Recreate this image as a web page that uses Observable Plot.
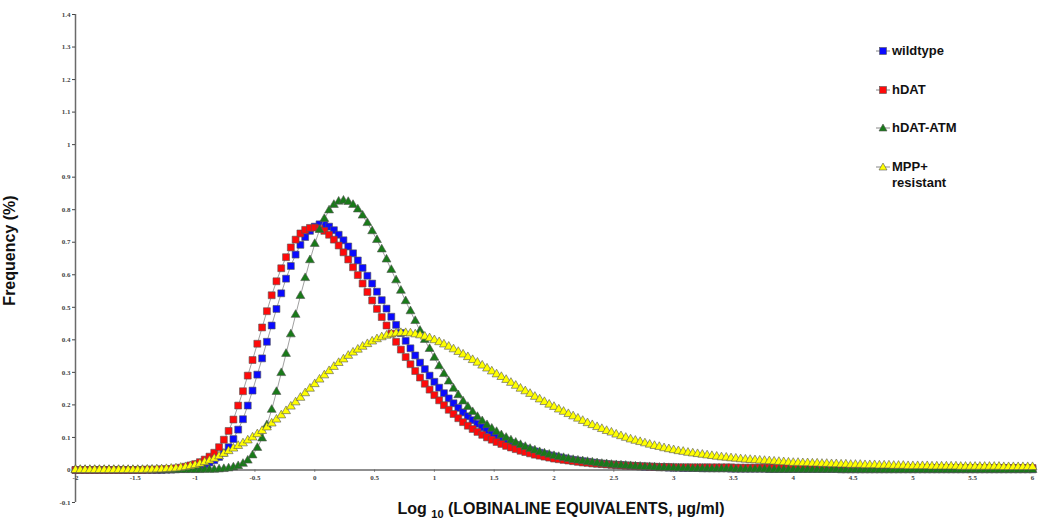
<!DOCTYPE html>
<html><head><meta charset="utf-8">
<script src="https://cdn.jsdelivr.net/npm/d3@7"></script>
<script src="https://cdn.jsdelivr.net/npm/@observablehq/plot@0.6"></script>
<style>
body{margin:0;background:#fff;}
#wrap{position:relative;width:1050px;height:520px;font-family:"Liberation Sans",Arial,sans-serif;}
.item{position:absolute;left:876px;display:flex;align-items:flex-start;font-weight:bold;font-size:13px;color:#111;line-height:16px}
.item svg{margin-right:2px;margin-top:1px;flex:none}
</style></head><body><div id="wrap"></div>
<script>
// x grid: -2 to 6 in steps of 0.04 (201 points)
const X_START = -2, X_STEP = 0.04;
const xTicks = [-2,-1.5,-1,-0.5,0,0.5,1,1.5,2,2.5,3,3.5,4,4.5,5,5.5,6];
const yTicks = [-0.1,0,0.1,0.2,0.3,0.4,0.5,0.6,0.7,0.8,0.9,1,1.1,1.2,1.3,1.4];
const seriesNames = ["wildtype","hDAT","hDAT-ATM","MPP+ resistant"];
const xTitle = "Log 10 (LOBINALINE EQUIVALENTS, µg/ml)";
const yTitle = "Frequency (%)";

const wildtype = [
 0,0,0,0,0, 0,0,0,0,0, 0,0,0,0,0, 0,0,0,0, 0.001,0.001,0.002,0.003,0.004,0.006,
 0.009,0.012,0.017,0.023,0.03,0.04,0.053,0.07,0.095,0.124,0.156,0.198,0.244,0.293,0.343,0.394,0.444,0.495,0.543,0.588,0.627,0.662,0.692,0.716,0.735,
 0.748,0.755,0.754,0.748,0.737,0.723,0.706,0.687,0.666,0.644,0.621,0.597,0.573,0.548,0.522,0.496,0.471,0.446,0.421,0.397,0.374,0.352,0.33,0.31,0.29,
 0.271,0.253,0.236,0.22,0.205,0.191,0.177,0.165,0.153,0.142,0.131,0.122,0.113,0.105,0.097,0.09,0.083,0.077,0.071,0.066,0.061,0.057,0.053,0.049,0.045,
 0.042,0.039,0.036,0.033,0.031,0.029,0.027,0.025,0.023,0.021,0.02,0.018,0.017,0.016,0.015,0.014,0.013,0.012,0.011,0.01,0.01,0.009,0.008,0.008,0.007,
 0.007,0.007,0.006,0.006,0.006,0.006,0.005,0.005,0.005,0.005,0.005,0.005,0.004,0.004,0.004,0.004,0.004,0.004,0.004,0.004,0.003,0.003,0.003,0.003,0.003,
 0.003,0.003,0.003,0.003,0.003,0.003,0.003,0.003,0.003,0.003,0.002,0.002,0.002,0.002,0.002,0.002,0.002,0.002,0.002,0.002,0.002,0.002,0.002,0.002,0.002,
 0.002,0.002,0.002,0.002,0.002,0.002,0.002,0.002,0.002,0.002,0.002,0.002,0.002,0.002,0.002,0.002,0.002,0.002,0.002,0.002,0.002,0.002,0.002,0.002,0.002,
 0.002
];
const hDAT = [
 0,0,0,0,0, 0,0,0,0,0, 0,0,0,0,0, 0.001,0.001,0.001,0.002,0.002,0.003,0.005,0.007,0.010,0.014,
 0.018,0.024,0.032,0.041,0.053,0.07,0.093,0.12,0.155,0.198,0.242,0.29,0.338,0.388,0.438,0.488,0.537,0.58,0.62,0.654,0.684,0.708,0.727,0.738,0.744,
 0.745,0.742,0.735,0.723,0.708,0.69,0.669,0.647,0.623,0.599,0.573,0.547,0.521,0.495,0.47,0.444,0.419,0.394,0.37,0.347,0.325,0.304,0.284,0.265,0.247,
 0.23,0.214,0.199,0.185,0.172,0.159,0.147,0.136,0.126,0.117,0.108,0.1,0.093,0.086,0.08,0.074,0.069,0.064,0.059,0.055,0.051,0.047,0.044,0.041,0.038,
 0.035,0.033,0.031,0.029,0.027,0.025,0.023,0.022,0.02,0.019,0.018,0.017,0.016,0.015,0.014,0.013,0.013,0.012,0.011,0.011,0.01,0.01,0.009,0.009,0.009,
 0.008,0.008,0.008,0.008,0.008,0.008,0.008,0.008,0.008,0.008,0.008,0.008,0.008,0.007,0.007,0.007,0.007,0.007,0.007,0.007,0.007,0.007,0.007,0.007,0.007,
 0.007,0.007,0.007,0.007,0.007,0.007,0.007,0.007,0.007,0.007,0.006,0.006,0.006,0.006,0.006,0.006,0.006,0.006,0.006,0.006,0.006,0.006,0.006,0.006,0.006,
 0.006,0.006,0.006,0.006,0.006,0.006,0.006,0.006,0.006,0.006,0.006,0.006,0.006,0.006,0.006,0.006,0.006,0.006,0.006,0.006,0.006,0.006,0.006,0.006,0.006,
 0.006
];
const hDATATM = [
 0,0,0,0,0, 0,0,0,0,0, 0,0,0,0,0, 0,0,0,0,0, 0,0,0,0,0,
 0,0,0.001,0.001,0.001,0.002,0.003,0.005,0.008,0.012,0.019,0.029,0.045,0.068,0.097,0.138,0.185,0.24,0.298,0.357,0.417,0.477,0.535,0.59,0.645,
 0.695,0.738,0.772,0.798,0.815,0.825,0.828,0.824,0.815,0.801,0.782,0.759,0.734,0.707,0.678,0.647,0.615,0.583,0.551,0.519,0.488,0.458,0.428,0.4,0.372,
 0.345,0.319,0.295,0.272,0.25,0.23,0.211,0.194,0.178,0.163,0.15,0.138,0.127,0.117,0.107,0.099,0.091,0.084,0.077,0.071,0.065,0.06,0.055,0.051,0.047,
 0.043,0.04,0.037,0.034,0.031,0.029,0.027,0.025,0.023,0.021,0.019,0.018,0.016,0.015,0.014,0.013,0.012,0.011,0.01,0.009,0.009,0.008,0.007,0.007,0.006,
 0.006,0.005,0.005,0.005,0.004,0.004,0.004,0.004,0.003,0.003,0.003,0.003,0.003,0.002,0.002,0.002,0.002,0.002,0.002,0.002,0.001,0.001,0.001,0.001,0.001,
 0.001,0.001,0.001,0.001,0.001,0.001,0.001,0.001,0.001,0.001,0,0,0,0,0, 0,0,0,0,0, 0,0,0,0,0,
 0,0,0,0,0, 0,0,0,0,0, 0,0,0,0,0, 0,0,0,0,0, 0,0,0,0,0,
 0
];
const mppResistant = [
 0,0,0,0,0, 0,0,0,0,0, 0,0,0,0,0, 0.001,0.001,0.002,0.002,0.003,0.004,0.005,0.007,0.009,0.012,
 0.015,0.019,0.024,0.029,0.035,0.042,0.05,0.058,0.066,0.074,0.082,0.091,0.1,0.11,0.12,0.131,0.143,0.155,0.168,0.181,0.195,0.208,0.222,0.236,0.25,
 0.264,0.278,0.291,0.304,0.317,0.329,0.34,0.351,0.361,0.37,0.379,0.387,0.395,0.402,0.408,0.413,0.417,0.42,0.421,0.421,0.42,0.417,0.414,0.41,0.405,
 0.399,0.393,0.386,0.379,0.371,0.363,0.355,0.347,0.338,0.33,0.321,0.312,0.303,0.294,0.286,0.277,0.268,0.259,0.25,0.242,0.234,0.225,0.217,0.209,0.201,
 0.194,0.186,0.179,0.172,0.165,0.158,0.151,0.144,0.138,0.132,0.126,0.12,0.115,0.109,0.104,0.099,0.094,0.09,0.086,0.082,0.078,0.074,0.071,0.067,0.064,
 0.061,0.058,0.056,0.053,0.051,0.049,0.047,0.045,0.043,0.041,0.039,0.038,0.036,0.035,0.033,0.032,0.031,0.03,0.029,0.028,0.027,0.026,0.025,0.024,0.023,
 0.022,0.022,0.021,0.021,0.02,0.02,0.019,0.019,0.018,0.018,0.017,0.017,0.016,0.016,0.016,0.015,0.015,0.015,0.014,0.014,0.014,0.013,0.013,0.013,0.012,
 0.012,0.012,0.012,0.012,0.011,0.011,0.011,0.011,0.011,0.011,0.010,0.010,0.010,0.010,0.010,0.010,0.010,0.010,0.010,0.009,0.009,0.009,0.009,0.009,0.009,
 0.009
];

const xs = wildtype.map((_, i) => +(X_START + i * X_STEP).toFixed(2));
const styles = [
  {values: wildtype,     fill: "#0a0aff", symbol: "square",   r: 3.9},
  {values: hDAT,         fill: "#ff0a0a", symbol: "square",   r: 3.9},
  {values: hDATATM,      fill: "#197a19", symbol: "triangle", r: 3.3},
  {values: mppResistant, fill: "#ffff00", symbol: "triangle", r: 3.3}
];
const series = styles.map((s, k) => ({...s, name: seriesNames[k],
  data: s.values.map((v, i) => ({x: xs[i], y: v}))}));

const fmt = d => String(+d.toFixed(1));
const xDomain = [xTicks[0], xTicks[xTicks.length - 1]];
const yDomain = [yTicks[0], yTicks[yTicks.length - 1]];
const axisColor = "#6a6a6a";

const marks = [
  Plot.ruleX([xDomain[0]], {y1: yDomain[0], y2: yDomain[1], stroke: axisColor, strokeWidth: 1.5}),
  Plot.ruleY([0], {x1: xDomain[0], x2: xDomain[1], stroke: axisColor, strokeWidth: 1.5}),
  Plot.axisY({ticks: yTicks, tickFormat: fmt, tickSize: 3, tickPadding: 2, fontSize: 7,
    fontWeight: "bold", fontFamily: "Liberation Serif", color: "#444", label: null}),
  Plot.ruleX(xTicks, {x: d => d, y1: 0, y2: -0.007, stroke: axisColor}),
  Plot.text(xTicks, {x: d => d, y: 0, dy: 8, text: fmt, fontSize: 7, fontWeight: "bold",
    fontFamily: "Liberation Serif", fill: "#444"})
];
for (const s of series) {
  marks.push(Plot.line(s.data, {x: "x", y: "y", stroke: "#888", strokeWidth: 0.8}));
  marks.push(Plot.dot(s.data, {x: "x", y: "y", symbol: s.symbol, r: s.r, fill: s.fill,
    stroke: "#555", strokeWidth: 0.6}));
}
marks.push(Plot.text([yTitle], {frameAnchor: "left", textAnchor: "middle", rotate: -90, dx: -61, dy: -8,
  lineAnchor: "bottom", fontSize: 16, fontWeight: "bold", fontFamily: "Liberation Sans", fill: "#111"}));
marks.push(Plot.text([xTitle], {frameAnchor: "bottom", textAnchor: "middle", dx: 7, dy: 11, lineAnchor: "bottom",
  fontSize: 16, fontWeight: "bold", fontFamily: "Liberation Sans", fill: "#111"}));

const chart = Plot.plot({
  width: 1050, height: 520,
  marginLeft: 75, marginRight: 18, marginTop: 14, marginBottom: 18,
  x: {domain: xDomain, axis: null},
  y: {domain: yDomain, axis: null},
  style: {background: "#fff", overflow: "visible"},
  marks
});
document.getElementById("wrap").appendChild(chart);

// subscript "10" in the x title
d3.select(chart).selectAll("text").filter(function () { return this.textContent === xTitle; })
  .each(function () {
    const t = d3.select(this);
    const parts = xTitle.split(" 10 ");
    t.text(null);
    t.append("tspan").text(parts[0] + " ");
    t.append("tspan").attr("font-size", 11).attr("dy", 4).text("10");
    t.append("tspan").attr("dy", -4).text(" " + parts[1]);
  });

// legend
const legendTops = [43, 82, 120, 159];
const wrap = document.getElementById("wrap");
series.forEach((s, k) => {
  const div = document.createElement("div");
  div.className = "item";
  div.style.top = legendTops[k] + "px";
  const sym = s.symbol === "square"
    ? `<rect x="3.5" y="3.5" width="7" height="7" fill="${s.fill}" stroke="#555" stroke-width="0.6"/>`
    : `<path d="M7,3 L11,10 L3,10 Z" fill="${s.fill}" stroke="#555" stroke-width="0.6"/>`;
  div.innerHTML = `<svg width="14" height="14"><line x1="0" x2="14" y1="7" y2="7" stroke="#888" stroke-width="1"/>${sym}</svg>`
    + `<span>${s.name.replace(" ", "<br>")}</span>`;
  wrap.appendChild(div);
});
</script></body></html>
